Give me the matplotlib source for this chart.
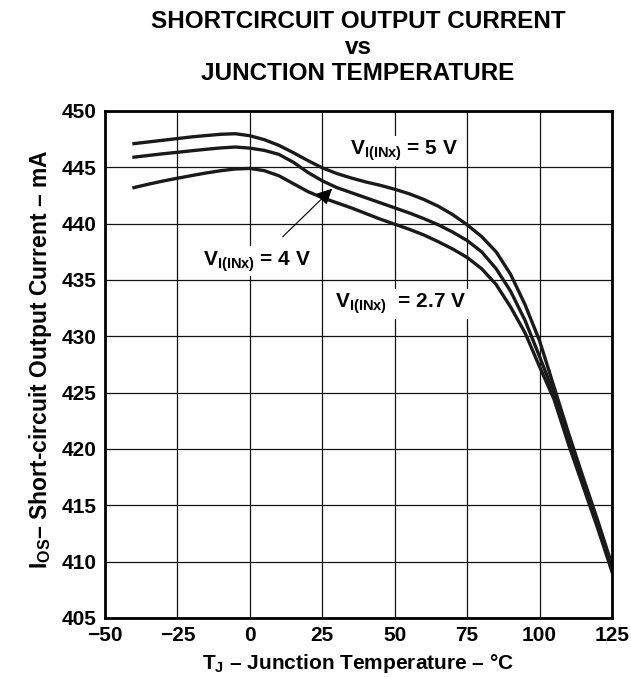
import matplotlib
matplotlib.use('Agg')
from matplotlib import pyplot as plt

# Short-circuit output current vs junction temperature, three input voltages
temps = [-40, -35, -30, -25, -20, -15, -10, -5, 0, 5, 10, 15, 20, 25, 30, 35,
         40, 45, 50, 55, 60, 65, 70, 75, 80, 85, 90, 95, 100, 105, 110, 115,
         120, 125]
ios_5v = [447.1, 447.25, 447.4, 447.55, 447.7, 447.82, 447.93, 447.98, 447.8,
          447.45, 446.95, 446.3, 445.6, 444.95, 444.45, 444.05, 443.7, 443.4,
          443.05, 442.65, 442.15, 441.55, 440.8, 439.9, 438.85, 437.5, 435.5,
          432.8, 429.6, 425.5, 421.4, 417.5, 413.7, 409.7]
ios_4v = [445.9, 446.05, 446.2, 446.33, 446.47, 446.6, 446.72, 446.8, 446.7,
          446.5, 446.15, 445.45, 444.55, 443.8, 443.2, 442.75, 442.3, 441.85,
          441.4, 440.95, 440.45, 439.9, 439.25, 438.5, 437.5, 436.0, 434.0,
          431.4, 428.2, 424.9, 420.9, 417.1, 413.3, 409.4]
ios_2v7 = [443.2, 443.5, 443.78, 444.03, 444.27, 444.5, 444.7, 444.85, 444.9,
           444.7, 444.25, 443.55, 442.85, 442.3, 441.85, 441.4, 440.9, 440.4,
           439.95, 439.5, 439.0, 438.4, 437.75, 437.0, 436.0, 434.6, 432.6,
           430.3, 427.3, 424.4, 420.4, 416.7, 413.0, 409.1]

x_ticks = [-50, -25, 0, 25, 50, 75, 100, 125]
x_ticklabels = ['\u221250', '\u221225', '0', '25', '50', '75', '100', '125']
y_ticks = [405, 410, 415, 420, 425, 430, 435, 440, 445, 450]

plt.rcParams['font.family'] = 'Liberation Sans'
plt.rcParams['font.weight'] = 'bold'
plt.rcParams['axes.labelweight'] = 'bold'
plt.rcParams['mathtext.fontset'] = 'custom'
plt.rcParams['mathtext.rm'] = 'Liberation Sans:bold'
plt.rcParams['mathtext.it'] = 'Liberation Sans:bold'
plt.rcParams['mathtext.bf'] = 'Liberation Sans:bold'

fig = plt.figure(figsize=(6.31, 6.77), dpi=100)
ax = fig.add_axes([0.1664, 0.0872, 0.8035, 0.7489])

for ios in (ios_5v, ios_4v, ios_2v7):
    ax.plot(temps, ios, color='#1a1a1a', lw=2.4, zorder=3)

ax.set_xlim(-50, 125)
ax.set_ylim(405, 450)
ax.set_xticks(x_ticks)
ax.set_xticklabels(x_ticklabels)
ax.set_yticks(y_ticks)
ax.tick_params(length=0, labelsize=15, pad=6)
ax.grid(True, color='#111111', lw=0.9)
for sp in ax.spines.values():
    sp.set_linewidth(2)
    sp.set_zorder(4)

ax.set_xlabel('$\\mathrm{T_J}$ \u2013 Junction Temperature \u2013 \u00b0C',
              fontsize=15, labelpad=5)
ax.set_ylabel('$\\mathrm{I_{OS}}$\u2013 Short-circuit Output Current \u2013 mA',
              fontsize=16.5, labelpad=9)
ax.yaxis.set_label_coords(-0.1, 0.51)

fig.text(0.5675, 0.985, 'SHORTCIRCUIT OUTPUT CURRENT\nvs\nJUNCTION TEMPERATURE',
         ha='center', va='top', fontsize=17.5, linespacing=1.15)

box = dict(facecolor='white', edgecolor='none', pad=2)
ax.text(53.2, 446.1, r'$\mathrm{V_{I(INx)}}$ = 5 V', ha='center', va='baseline',
        fontsize=15, bbox=box, zorder=5)
ax.text(52.1, 432.5, r'$\mathrm{V_{I(INx)}}$  = 2.7 V', ha='center', va='baseline',
        fontsize=15, bbox=box, zorder=5)
ax.annotate(r'$\mathrm{V_{I(INx)}}$ = 4 V', xy=(28.4, 443.1), xytext=(2.6, 436.3),
            ha='center', va='baseline', fontsize=15, bbox=box, zorder=5,
            arrowprops=dict(arrowstyle='-|>', color='k', lw=0.8, mutation_scale=24,
                            shrinkA=10, shrinkB=0))

fig.savefig('out.png', dpi=100)
